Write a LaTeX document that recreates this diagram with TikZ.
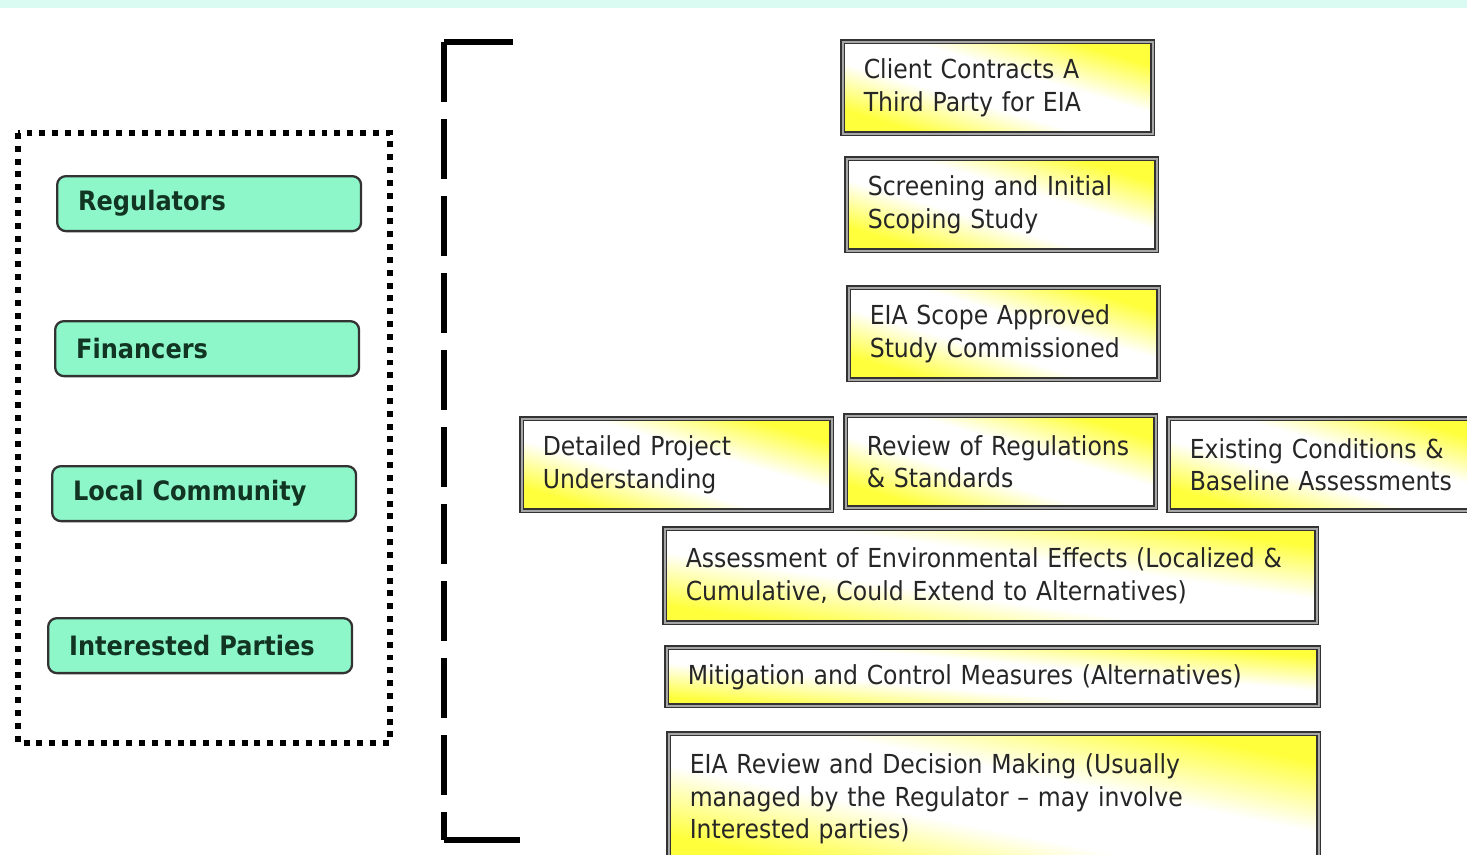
\documentclass[tikz,border=0pt]{standalone}
\usepackage{fontspec}
\setmainfont{DejaVu Sans}[FakeStretch=0.9]
\definecolor{mint}{RGB}{142,247,202}
\definecolor{partytext}{RGB}{18,52,34}
\definecolor{boxyellow}{RGB}{255,255,60}
\definecolor{stripcyan}{RGB}{218,251,242}
\pgfdeclareverticalshading{stepshade}{100bp}{color(0bp)=(boxyellow); color(27bp)=(boxyellow);
    color(43bp)=(white); color(57bp)=(white); color(73bp)=(boxyellow); color(100bp)=(boxyellow)}
\begin{document}
\begin{tikzpicture}[x=0.02cm, y=-0.02cm,
    stepbox/.style={draw=black!80, double=black!35, double distance=1.2pt, line width=0.9pt,
        shading=stepshade, shading angle=-16.5, anchor=north west, inner xsep=0.42cm, align=left,
        minimum height=1.84cm, text=black!85, font=\fontsize{14.9}{18.4}\selectfont},
    partybox/.style={draw=black!80, line width=1.3pt, fill=mint, rounded corners=5pt,
        anchor=north west, inner xsep=0.42cm, text width=5.24cm, minimum height=1.1cm,
        text=partytext, font=\bfseries\fontsize{15.2}{17}\selectfont}]
    \useasboundingbox (0,0) rectangle (1467,855);
    \clip (0,0) rectangle (1467,855);
    \fill[stripcyan] (0,0) rectangle (1467,8);

    % Interessados
    \draw[line width=3.4pt, dash pattern=on 3.4pt off 3.9pt] (18,133) rectangle (390,743);
    \node[partybox] (regulators) at (56,175) {Regulators};
    \node[partybox] (financers) at (54,320) {Financers};
    \node[partybox] (community) at (51,465) {Local Community};
    \node[partybox] (parties) at (47,617) {Interested Parties};

    % Colchete
    \coordinate (brtopend) at (513,42);
    \coordinate (brtop) at (444,42);
    \coordinate (brbot) at (444,840);
    \coordinate (brbotend) at (520,840);
    \draw[line width=3.7pt] (brtopend) -- (brtop);
    \draw[line width=3.7pt, dash pattern=on 1.2cm off 0.34cm] (brtop) -- (brbot);
    \draw[line width=3.7pt] (brbot) -- (brbotend);

    % Etapas
    \node[stepbox, text width=5.36cm] (client) at (842,41)
        {Client Contracts A\\Third Party for EIA};
    \node[stepbox, text width=5.36cm] (screening) at (846,158)
        {Screening and Initial\\Scoping Study};
    \node[stepbox, text width=5.36cm] (scope) at (848,287)
        {EIA Scope Approved\\Study Commissioned};
    \node[stepbox, text width=5.36cm] (project) at (521,418)
        {Detailed Project\\Understanding};
    \node[stepbox, text width=5.36cm] (regs) at (845,415)
        {Review of Regulations\\\& Standards};
    \node[stepbox, text width=5.56cm, shading angle=-16] (baseline) at (1168,418)
        {Existing Conditions \&\\Baseline Assessments};
    \node[stepbox, text width=12.2cm, minimum height=1.88cm, shading angle=-8.2] (effects) at (664,528)
        {Assessment of Environmental Effects (Localized \&\\Cumulative, Could Extend to Alternatives)};
    \node[stepbox, text width=12.2cm, minimum height=1.16cm, shading angle=-5.1] (mitigation) at (666,647)
        {Mitigation and Control Measures (Alternatives)};
    \node[stepbox, text width=12.16cm, minimum height=2.6cm, shading angle=-11.3] (decision) at (668,733)
        {EIA Review and Decision Making (Usually\\managed by the Regulator -- may involve\\Interested parties)};
\end{tikzpicture}
\end{document}
